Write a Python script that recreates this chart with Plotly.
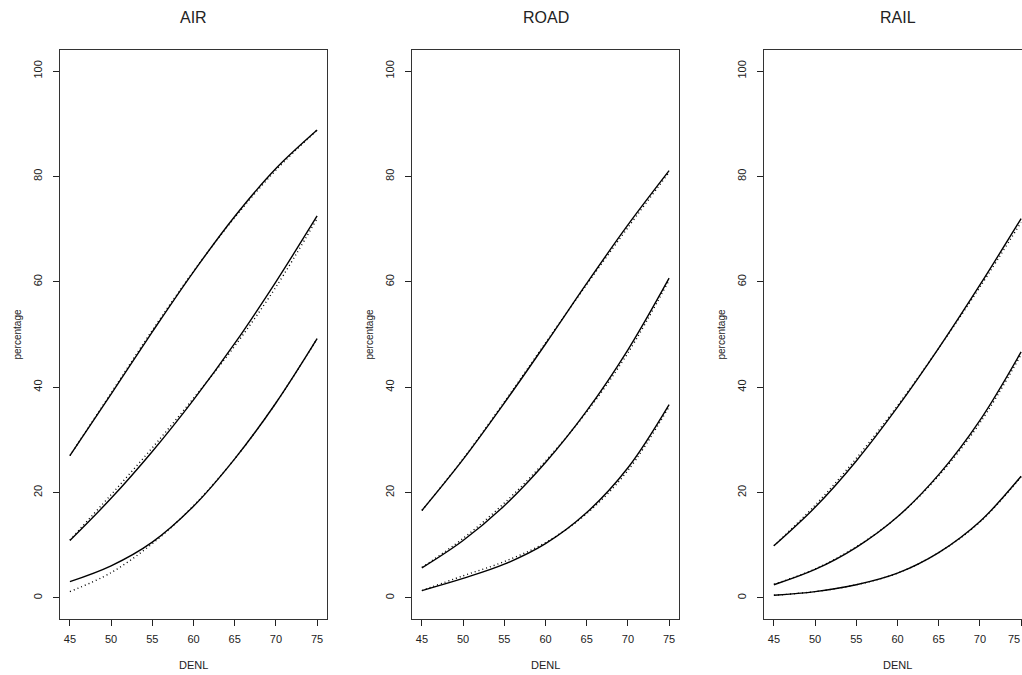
import plotly.graph_objects as go

# ---- data ----
denl = [45, 50, 55, 60, 65, 70, 75]
panels = ["AIR", "ROAD", "RAIL"]

air_solid_top = [27.0, 38.7, 50.5, 61.9, 72.4, 81.5, 88.8]
air_solid_mid = [10.9, 18.9, 27.8, 37.6, 48.3, 60.0, 72.5]
air_solid_low = [3.1, 6.1, 10.6, 17.4, 26.4, 37.0, 49.2]
air_dot_top = [27.0, 38.9, 50.8, 62.0, 72.2, 81.2, 88.8]
air_dot_mid = [11.0, 19.6, 28.5, 37.9, 47.8, 59.0, 72.0]
air_dot_low = [1.2, 4.8, 10.3, 17.5, 26.4, 37.0, 49.2]

road_solid_top = [16.6, 26.3, 37.0, 48.2, 59.7, 70.8, 81.1]
road_solid_mid = [5.7, 10.9, 17.5, 25.7, 35.5, 47.1, 60.7]
road_solid_low = [1.4, 3.7, 6.4, 10.3, 16.2, 24.7, 36.7]
road_dot_top = [16.6, 26.4, 37.2, 48.4, 59.5, 70.3, 80.8]
road_dot_mid = [5.8, 11.3, 18.0, 26.0, 35.3, 46.5, 60.3]
road_dot_low = [1.4, 4.2, 6.9, 10.5, 16.0, 24.2, 36.3]

rail_solid_top = [9.9, 17.2, 26.0, 36.2, 47.4, 59.4, 72.0]
rail_solid_mid = [2.5, 5.4, 9.6, 15.4, 23.4, 33.7, 46.7]
rail_solid_low = [0.5, 1.2, 2.5, 4.7, 8.6, 14.5, 23.1]
rail_dot_top = [9.9, 17.6, 26.5, 36.5, 47.4, 59.0, 71.3]
rail_dot_mid = [2.6, 5.5, 9.7, 15.4, 23.2, 33.2, 46.2]
rail_dot_low = [0.5, 1.2, 2.5, 4.7, 8.6, 14.4, 23.0]

x_ticks = [45, 50, 55, 60, 65, 70, 75]
y_ticks = [0, 20, 40, 60, 80, 100]

solid = [
    [air_solid_top, air_solid_mid, air_solid_low],
    [road_solid_top, road_solid_mid, road_solid_low],
    [rail_solid_top, rail_solid_mid, rail_solid_low],
]
dotted = [
    [air_dot_top, air_dot_mid, air_dot_low],
    [road_dot_top, road_dot_mid, road_dot_low],
    [rail_dot_top, rail_dot_mid, rail_dot_low],
]

# ---- layout geometry ----
W, H = 1022, 675
left_px = [60, 412, 764]
box_w = 267
top_px, bot_px = 50, 619
xmin, xmax = 43.8, 76.2
px_per_unit = box_w / (xmax - xmin)

FONT = "Liberation Sans, Arial, Helvetica, sans-serif"
INK = "#222222"

fig = go.Figure()
layout = dict(
    width=W, height=H,
    margin=dict(l=0, r=0, t=0, b=0),
    paper_bgcolor="white", plot_bgcolor="white",
    showlegend=False,
    font=dict(family=FONT, color=INK),
)
annotations = []

for i, name in enumerate(panels):
    k = "" if i == 0 else str(i + 1)
    x0 = left_px[i] / W
    right_px = left_px[i] + box_w
    x1 = min(right_px, W) / W
    xr_max = xmin + (min(right_px, W) - left_px[i]) / px_per_unit
    clipped = right_px > W

    for ys in solid[i]:
        fig.add_trace(go.Scatter(x=denl, y=ys, mode="lines",
                                 line=dict(color="black", width=1.4, shape="spline"),
                                 xaxis="x" + k, yaxis="y" + k, hoverinfo="skip"))
    for ys in dotted[i]:
        fig.add_trace(go.Scatter(x=denl, y=ys, mode="lines",
                                 line=dict(color="black", width=1.4, dash="1px,3px", shape="spline"),
                                 xaxis="x" + k, yaxis="y" + k, hoverinfo="skip"))

    layout["xaxis" + k] = dict(
        domain=[x0, x1], range=[xmin, xr_max], anchor="y" + k,
        tickmode="array", tickvals=x_ticks, ticks="outside", ticklen=6,
        tickwidth=1, tickcolor=INK, showgrid=False, zeroline=False,
        showline=True, linecolor="#333333", linewidth=1.2, mirror=True,
        tickfont=dict(size=11, family=FONT, color=INK), ticklabelstandoff=4,
    )
    layout["yaxis" + k] = dict(
        domain=[1 - bot_px / H, 1 - top_px / H], range=[-4, 104], anchor="x" + k,
        tickmode="array", tickvals=y_ticks, ticks="outside", ticklen=6,
        tickwidth=1, tickcolor=INK, showgrid=False, zeroline=False,
        showline=True, linecolor="#333333", linewidth=1.2,
        mirror=(not clipped), tickangle=-90,
        tickfont=dict(size=11, family=FONT, color=INK), ticklabelstandoff=7,
    )
    if clipped:
        # last tick label would run past the page edge: keep it inside
        annotations.append(dict(text=str(x_ticks[-1]), x=1.0, xref="paper",
                                y=1 - 639 / H, yref="paper", showarrow=False,
                                xanchor="right", yanchor="middle",
                                font=dict(size=11, family=FONT, color=INK)))

    cx = (left_px[i] + box_w / 2) / W
    annotations.append(dict(text=name, x=cx, y=1 - 18 / H, xref="paper", yref="paper",
                            showarrow=False, font=dict(size=16, family=FONT, color=INK),
                            xanchor="center", yanchor="middle"))
    annotations.append(dict(text="DENL", x=cx, y=1 - 665 / H, xref="paper", yref="paper",
                            showarrow=False, font=dict(size=11, family=FONT, color=INK),
                            xanchor="center", yanchor="middle"))
    annotations.append(dict(text="percentage", x=(left_px[i] - 43) / W,
                            y=1 - ((top_px + bot_px) / 2) / H, xref="paper", yref="paper",
                            showarrow=False, textangle=-90,
                            font=dict(size=10, family=FONT, color=INK),
                            xanchor="center", yanchor="middle"))

layout["annotations"] = annotations
fig.update_layout(**layout)
post = (
    "document.documentElement.style.overflow='hidden';"
    "document.body.style.margin='0';document.body.style.overflow='hidden';"
)
fig.write_html("out.html", config={"displayModeBar": False}, post_script=post)
